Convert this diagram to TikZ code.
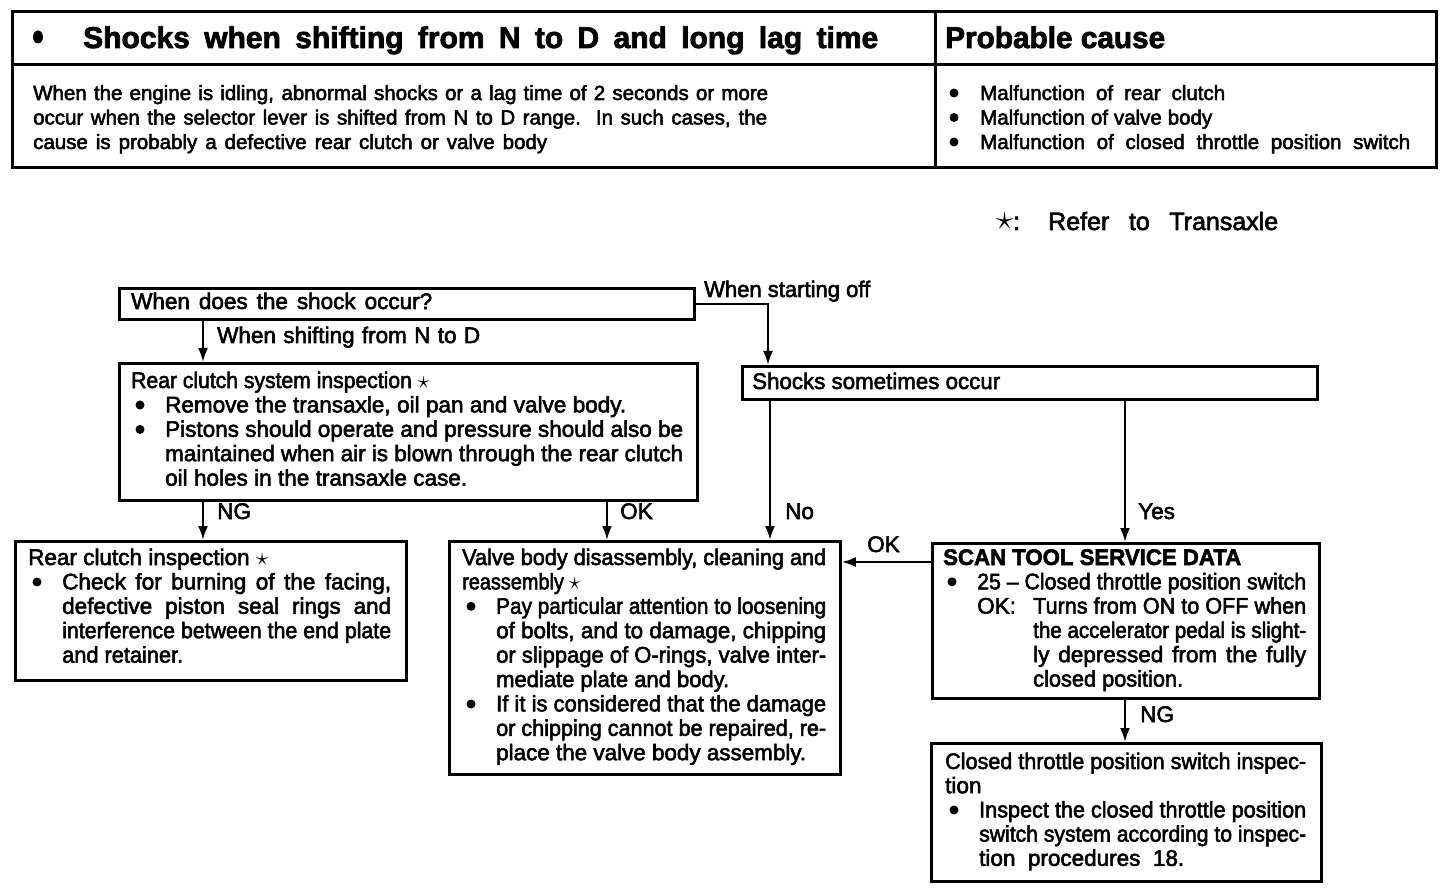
\documentclass[tikz,border=0pt]{standalone}
\usepackage{fontspec}
\setmainfont{Liberation Sans}[FakeBold=2.5]
\usepackage{graphicx}
\usetikzlibrary{arrows.meta}
\newlength\tmpw
\newcommand\J[2]{\settowidth\tmpw{#2}\ifdim\tmpw>#1\relax\resizebox{#1}{\height}{#2}\else\makebox[#1][s]{#2}\fi}
\newcommand\fs{\fontsize{22.5}{24.4}\selectfont}
\newcommand\fp{\fontsize{20.5}{24.5}\selectfont}
\newcommand\ft{\fontsize{30}{36}\selectfont\bfseries}
\newcommand\bul[1]{\hspace*{#1}}
\newcommand\st{\smash{\scalebox{1.2}{$\star$}}}
\begin{document}
\begin{tikzpicture}[x=1pt,y=-1pt,
  box/.style={draw, line width=2.8pt, inner sep=0pt, anchor=north west},
  txt/.style={inner sep=0pt, anchor=base west, font=\fs},
  dotb/.style={fill=black},
  conn/.style={line width=2.3pt, -{Latex[length=14pt,width=10pt]}}]
\useasboundingbox (0,0) rectangle (1456,890);

% header table
\draw[line width=3pt] (12,12) rectangle (1436,168);
\draw[line width=3pt] (12,65) -- (1436,65);
\draw[line width=3pt] (935,12) -- (935,168);
\fill[dotb] (38,37) ellipse (5pt and 6.5pt);
\node[txt, font=\ft] (ttl) at (83,48) {\J{795pt}{Shocks when shifting from N to D and long lag time}};
\node[txt, font=\ft] (pc) at (945,48) {\J{220pt}{Probable cause}};
\node[txt, font=\fp] (desc) at (33,100) {\parbox[t]{890pt}{\fp
\J{735pt}{When the engine is idling, abnormal shocks or a lag time of 2 seconds or more}\\
\J{734pt}{occur when the selector lever is shifted from N to D range.\ \ In such cases, the}\\
\J{514pt}{cause is probably a defective rear clutch or valve body}}};
\node[txt, font=\fp] (cause) at (946,100) {\parbox[t]{480pt}{\fp
\bul{34pt}\J{245pt}{Malfunction of rear clutch}\\
\bul{34pt}\J{232pt}{Malfunction of valve body}\\
\bul{34pt}\J{430pt}{Malfunction of closed throttle position switch}}};
\foreach \yy in {93,117.5,142} \fill[dotb] (954,\yy) circle (4.5pt);

% legend
\node[txt, font=\fontsize{25}{28}\selectfont] (refs) at (996,230) {\scalebox{1.4}{$\star$}:};
\node[txt, font=\fontsize{25}{28}\selectfont] (reft) at (1048,230) {\J{230pt}{Refer to Transaxle}};

% boxes
\node[box, minimum width=575pt, minimum height=31pt] (A) at (118,287) {};
\node[box, minimum width=578pt, minimum height=137pt] (B) at (118,362) {};
\node[box, minimum width=575pt, minimum height=33pt] (C) at (741,365) {};
\node[box, minimum width=391pt, minimum height=139pt] (D) at (14,540) {};
\node[box, minimum width=391pt, minimum height=233pt] (E) at (448,540) {};
\node[box, minimum width=387pt, minimum height=155pt] (F) at (931,542) {};
\node[box, minimum width=390pt, minimum height=138pt] (G) at (930,742) {};

% box texts
\node[txt] (tA) at (131,309) {\J{301pt}{When does the shock occur?}};
\node[txt] (tB) at (131,388) {\parbox[t]{570pt}{\fs
\J{298pt}{Rear clutch system inspection \st}\\
\bul{34pt}\J{461pt}{Remove the transaxle, oil pan and valve body.}\\
\bul{34pt}\J{518pt}{Pistons should operate and pressure should also be}\\
\hspace*{34pt}\J{518pt}{maintained when air is blown through the rear clutch}\\
\hspace*{34pt}\J{302pt}{oil holes in the transaxle case.}}};
\node[txt] (tC) at (752,389) {\J{248pt}{Shocks sometimes occur}};
\node[txt] (tD) at (28,565) {\parbox[t]{380pt}{\fs
\J{240pt}{Rear clutch inspection \st}\\
\bul{34pt}\J{329pt}{Check for burning of the facing,}\\
\hspace*{34pt}\J{329pt}{defective piston seal rings and}\\
\hspace*{34pt}\J{329pt}{interference between the end plate}\\
\hspace*{34pt}\J{121pt}{and retainer.}}};
\node[txt] (tE) at (462,565) {\parbox[t]{380pt}{\fs
\J{364pt}{Valve body disassembly, cleaning and}\\
\J{118pt}{reassembly \st}\\
\bul{34pt}\J{330pt}{Pay particular attention to loosening}\\
\hspace*{34pt}\J{330pt}{of bolts, and to damage, chipping}\\
\hspace*{34pt}\J{330pt}{or slippage of O-rings, valve inter-}\\
\hspace*{34pt}\J{233pt}{mediate plate and body.}\\
\bul{34pt}\J{330pt}{If it is considered that the damage}\\
\hspace*{34pt}\J{330pt}{or chipping cannot be repaired, re-}\\
\hspace*{34pt}\J{310pt}{place the valve body assembly.}}};
\node[txt] (tF) at (943,565) {\parbox[t]{380pt}{\fontsize{22.5}{24.3}\selectfont
\J{298pt}{\bfseries SCAN TOOL SERVICE DATA}\\
\bul{34pt}\J{329pt}{25 – Closed throttle position switch}\\
\hspace*{34pt}\makebox[56pt][l]{OK:}\J{273pt}{Turns from ON to OFF when}\\
\hspace*{90pt}\J{273pt}{the accelerator pedal is slight-}\\
\hspace*{90pt}\J{273pt}{ly depressed from the fully}\\
\hspace*{90pt}\J{150pt}{closed position.}}};
\node[txt] (tG) at (945,769) {\parbox[t]{380pt}{\fontsize{22.5}{24.2}\selectfont
\J{361pt}{Closed throttle position switch inspec-}\\
\J{40pt}{tion}\\
\bul{34pt}\J{327pt}{Inspect the closed throttle position}\\
\hspace*{34pt}\J{327pt}{switch system according to inspec-}\\
\hspace*{34pt}\J{205pt}{tion\ \ procedures\ \ 18.}}};

% bullets in boxes
\foreach \xx/\yy in {140/405, 140/429.4, 37/582, 471/606.3, 471/704, 952/581.8, 954/810}
  \fill[dotb] (\xx,\yy) circle (4.5pt);

% connectors
\coordinate (xa) at (203,0);
\coordinate (xb) at (607,0);
\coordinate (xc) at (770,0);
\coordinate (xd) at (1125,0);
\coordinate (xs) at (768,0);
\coordinate (yok) at (0,562);
\draw[conn] (A.south -| xa) -- (B.north -| xa);
\draw[conn] (A.east) -| (C.north -| xs);
\draw[conn] (B.south -| xa) -- (D.north -| xa);
\draw[conn] (B.south -| xb) -- (E.north -| xb);
\draw[conn] (C.south -| xc) -- (E.north -| xc);
\draw[conn] (C.south -| xd) -- (F.north -| xd);
\draw[conn] (F.west |- yok) -- (E.east |- yok);
\draw[conn] (F.south -| xd) -- (G.north -| xd);

% connector labels
\node[txt] (l1) at (704,297) {\J{166pt}{When starting off}};
\node[txt] (l2) at (217,343) {\J{263pt}{When shifting from N to D}};
\node[txt] (l3) at (217,519) {NG};
\node[txt] (l4) at (620,519) {OK};
\node[txt] (l5) at (785,519) {No};
\node[txt] (l6) at (1138,519) {Yes};
\node[txt] (l7) at (867,552) {OK};
\node[txt] (l8) at (1140,722) {NG};
\end{tikzpicture}
\end{document}
